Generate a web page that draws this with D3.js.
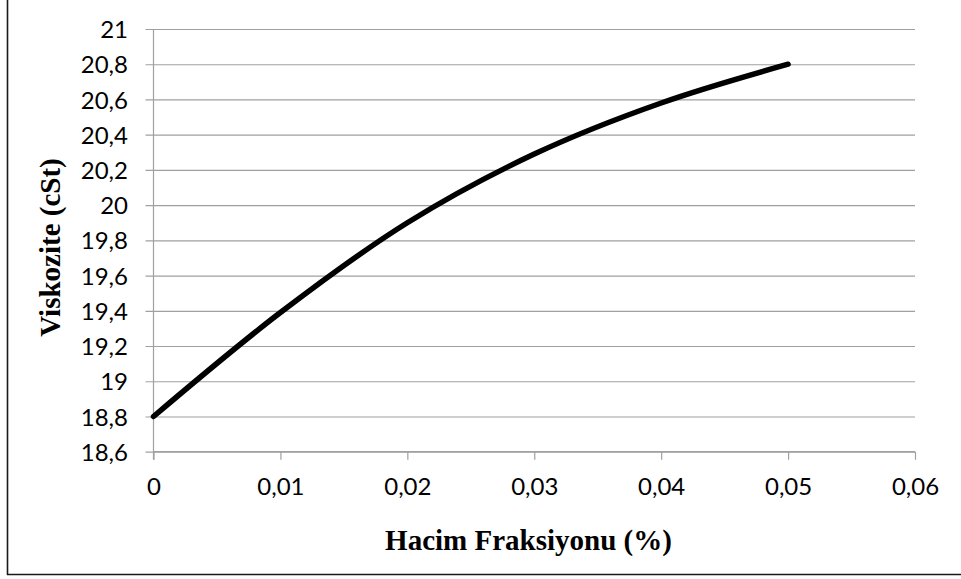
<!DOCTYPE html>
<html>
<head>
<meta charset="utf-8">
<script src="https://cdn.jsdelivr.net/npm/d3@7"></script>
<style>
  html, body { margin: 0; padding: 0; background: #fff; }
  svg { display: block; }
</style>
</head>
<body>
<svg id="chart" width="961" height="579"></svg>
<script>
// Data
const fractions = [0, 0.01, 0.02, 0.03, 0.04, 0.05];
const viscosity = [18.8, 19.39, 19.9, 20.29, 20.58, 20.8];
const xTicks = [0, 0.01, 0.02, 0.03, 0.04, 0.05, 0.06];
const yTicks = [18.6, 18.8, 19, 19.2, 19.4, 19.6, 19.8, 20, 20.2, 20.4, 20.6, 20.8, 21];
const xTitle = "Hacim Fraksiyonu (%)";
const yTitle = "Viskozite (cSt)";

const svg = d3.select("#chart");
const pL = 153.5, pR = 915, pT = 29, pB = 451.7;

const x = d3.scaleLinear().domain([0, 0.06]).range([pL, pR]);
const y = d3.scaleLinear().domain([18.6, 21]).range([pB, pT]);

const fmt = v => String(+v.toFixed(3)).replace(".", ",");
const tickFont = "Lato, 'Open Sans', sans-serif";

// outer border (left and bottom only visible)
svg.append("line").attr("x1", 7.5).attr("x2", 7.5).attr("y1", 0).attr("y2", 575)
  .attr("stroke", "#1a1a1a").attr("stroke-width", 1.6);
svg.append("line").attr("x1", 7).attr("x2", 961).attr("y1", 574.5).attr("y2", 574.5)
  .attr("stroke", "#1a1a1a").attr("stroke-width", 1.6);

// gridlines + y axis
const gy = svg.append("g").attr("transform", `translate(${pL},0)`)
  .call(d3.axisLeft(y).tickValues(yTicks).tickSize(8).tickFormat(fmt));
gy.select(".domain").remove();
gy.selectAll(".tick line").attr("stroke", "#a0a0a0").attr("stroke-width", 1.2)
  .attr("x1", -8).attr("x2", pR - pL);
gy.selectAll(".tick text").attr("x", -25.5)
  .attr("font-family", tickFont).attr("font-size", 24)
  .attr("fill", "#000").attr("dy", "0.36em");

// x axis
const gx = svg.append("g").attr("transform", `translate(0,${pB})`)
  .call(d3.axisBottom(x).tickValues(xTicks).tickSize(8).tickFormat(fmt));
gx.select(".domain").attr("d", `M${pL},0H${pR}`).attr("stroke", "#a0a0a0").attr("stroke-width", 1.2);
gx.selectAll(".tick line").attr("stroke", "#a0a0a0").attr("stroke-width", 1.2);
gx.selectAll(".tick text").attr("y", 43.5).attr("dy", 0)
  .attr("font-family", tickFont).attr("font-size", 24).attr("fill", "#000");

// y axis vertical line
svg.append("line").attr("x1", pL).attr("x2", pL).attr("y1", pT).attr("y2", pB + 8)
  .attr("stroke", "#a0a0a0").attr("stroke-width", 1.2);

// curve
const line = d3.line()
  .x((d, i) => x(fractions[i]))
  .y(d => y(d))
  .curve(d3.curveCatmullRom.alpha(0.5));
svg.append("path").datum(viscosity)
  .attr("d", line)
  .attr("fill", "none").attr("stroke", "#000").attr("stroke-width", 5.5)
  .attr("stroke-linecap", "round").attr("stroke-linejoin", "round");

// titles
svg.append("text").attr("x", 528.5).attr("y", 550).attr("text-anchor", "middle")
  .attr("font-family", "'Liberation Serif', 'Times New Roman', serif").attr("font-weight", "bold")
  .attr("font-size", 29).attr("fill", "#000").text(xTitle);
svg.append("text").attr("transform", `translate(60,247.5) rotate(-90)`)
  .attr("text-anchor", "middle")
  .attr("font-family", "'Liberation Serif', 'Times New Roman', serif").attr("font-weight", "bold")
  .attr("font-size", 29).attr("fill", "#000").text(yTitle);
</script>
</body>
</html>
